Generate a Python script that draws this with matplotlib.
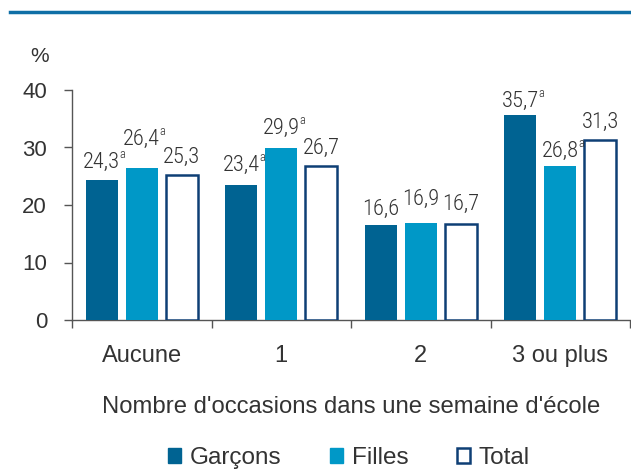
import matplotlib
matplotlib.use("Agg")
import matplotlib.pyplot as plt
from matplotlib.patches import Patch
from matplotlib.lines import Line2D
import numpy as np

categories = ["Aucune", "1", "2", "3 ou plus"]
series_names = ["Garçons", "Filles", "Total"]
garcons = [24.3, 23.4, 16.6, 35.7]
filles = [26.4, 29.9, 16.9, 26.8]
total = [25.3, 26.7, 16.7, 31.3]
garcons_sup = ["a", "a", "", "a"]
filles_sup = ["a", "a", "", "a"]
total_sup = ["", "", "", ""]
yticks = [0, 10, 20, 30, 40]
xlabel = "Nombre d'occasions dans une semaine d'école"
ylabel = "%"

# label lift above bar top (pixels)
lifts = [[12, 14, 10, 8], [23, 14, 18, 9], [12, 13, 14, 12]]

W, H = 631, 469
fig = plt.figure(figsize=(W / 100, H / 100), dpi=100)
ax = fig.add_axes([72 / W, 1 - 320 / H, (630 - 72) / W, 230 / H])

txt = "#333333"
axc = "#555555"
colors = ["#006392", "#0098C7", "white"]
edge_total = "#0E3F75"
main_font = ["Liberation Sans", "DejaVu Sans"]
narrow_font = ["Roboto Condensed", "Liberation Sans", "DejaVu Sans"]

x = np.arange(len(categories)) + 0.5
bw = 0.23
step = 0.287
series = [garcons, filles, total]
sups = [garcons_sup, filles_sup, total_sup]

ax.set_xlim(0, len(categories))
ax.set_ylim(0, 40)

for i, vals in enumerate(series):
    off = (i - 1) * step
    if i == 2:
        ax.bar(x + off, vals, bw, color="white", edgecolor=edge_total,
               linewidth=1.8, zorder=3)
    else:
        ax.bar(x + off, vals, bw, color=colors[i], linewidth=0, zorder=3)

for s in ["top", "right"]:
    ax.spines[s].set_visible(False)
for s in ["left", "bottom"]:
    ax.spines[s].set_color(axc)
    ax.spines[s].set_linewidth(1)

ax.set_yticks(yticks)
ax.set_yticklabels([str(v) for v in yticks], fontsize=16, color=txt,
                   family=main_font)
ax.tick_params(axis="y", length=6, width=1, color=axc, pad=12, direction="out")

ax.set_xticks(np.arange(len(categories) + 1))
ax.set_xticklabels([])
ax.tick_params(axis="x", which="major", length=6, width=1, color=axc,
               direction="out")
ax.set_xticks(x, minor=True)
ax.set_xticklabels(categories, minor=True, fontsize=17, color=txt,
                   family=main_font)
ax.tick_params(axis="x", which="minor", length=0, pad=18)

fig.text(0.5 * (72 + 630) / W, 1 - 407 / H, xlabel, ha="center",
         va="center", fontsize=17.2, color=txt, family=main_font)
fig.text(40 / W, 1 - 57 / H, ylabel, ha="center", va="center", fontsize=15,
         color=txt, family=main_font)

# top rule
fig.add_artist(Line2D([10 / W, 1], [1 - 12 / H, 1 - 12 / H],
                      transform=fig.transFigure, color="#0F6FA6", lw=2.5))

# value labels
labels = []
for i, vals in enumerate(series):
    off = (i - 1) * step
    for j, v in enumerate(vals):
        t = ax.annotate(f"{v:.1f}".replace(".", ","), (x[j] + off, v),
                        xytext=(0, lifts[i][j] * 0.72), textcoords="offset points",
                        ha="center", va="baseline", fontsize=16.2, color=txt,
                        family=narrow_font, fontweight="light", zorder=5)
        labels.append((t, sups[i][j], x[j] + off, v, lifts[i][j]))

fig.canvas.draw()
r = fig.canvas.get_renderer()
for t, s, xx, v, lift in labels:
    if not s:
        continue
    bb = t.get_window_extent(r)
    px, py = ax.transData.transform((xx, v))
    base = py + lift
    fig.text((bb.x1 - 0.5) / W, (base + 10) / H, s, ha="left", va="baseline",
             fontsize=9, color=txt, family=narrow_font, fontweight="light")

handles = [Patch(facecolor=colors[0], edgecolor=colors[0]),
           Patch(facecolor=colors[1], edgecolor=colors[1]),
           Patch(facecolor="white", edgecolor=edge_total, linewidth=1.8)]
fig.legend(handles, series_names, loc="center", ncol=3,
           bbox_to_anchor=(349 / W, 1 - 458 / H), frameon=False,
           prop={"family": main_font, "size": 17.5},
           handlelength=0.55, handleheight=0.55, handletextpad=0.35,
           columnspacing=2.0, labelcolor=txt)

fig.savefig("out.png", dpi=100)
